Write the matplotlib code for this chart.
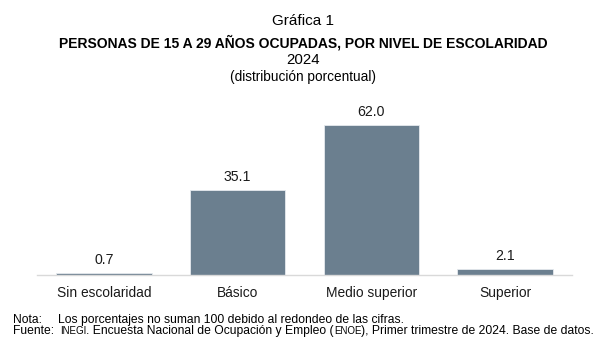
import matplotlib
matplotlib.use("Agg")
import matplotlib.pyplot as plt

categories = ["Sin escolaridad", "Básico", "Medio superior", "Superior"]
values = [0.7, 35.1, 62.0, 2.1]
value_labels = ["0.7", "35.1", "62.0", "2.1"]

plt.rcParams['font.family'] = ['Liberation Sans', 'DejaVu Sans']

W, H = 606, 354
fig = plt.figure(figsize=(W/100, H/100), dpi=100)
ax = fig.add_axes([37/W, 1-274.5/H, (572-37)/W, (274.5-100)/H])

x = range(len(categories))
ax.bar(x, values, width=0.713, color="#6B7F8F", edgecolor="#E6EAEE", linewidth=0.6)
ax.set_xlim(-0.5, 3.5)
ax.set_ylim(0, 72.4)
for xi, v, lab in zip(x, values, value_labels):
    ax.annotate(lab, (xi, v), xytext=(0, 4.5), textcoords="offset points",
                ha="center", va="bottom", fontsize=10.2, color="#1a1a1a")
ax.set_xticks(list(x))
ax.set_xticklabels(categories, fontsize=9.9, color="#1a1a1a")
ax.tick_params(axis="x", length=0, pad=8)
ax.set_yticks([])
for s in ["top", "right", "left"]:
    ax.spines[s].set_visible(False)
ax.spines["bottom"].set_color("#D9D9D9")
ax.spines["bottom"].set_linewidth(1.0)

cx = 0.5
fig.text(cx, 1-21/H, "Gráfica 1", ha="center", va="center", fontsize=11)
fig.text(cx, 1-42.5/H, "PERSONAS DE 15 A 29 AÑOS OCUPADAS, POR NIVEL DE ESCOLARIDAD",
         ha="center", va="center", fontsize=10, fontweight="bold")
fig.text(cx, 1-60/H, "2024", ha="center", va="center", fontsize=10.8)
fig.text(cx, 1-77.5/H, "(distribución porcentual)", ha="center", va="center", fontsize=9.8)

# Notes
fs = 8.75
fig.text(13/W, 1-320/H, "Nota:", ha="left", va="center", fontsize=fs)
fig.text(58/W, 1-320/H, "Los porcentajes no suman 100 debido al redondeo de las cifras.",
         ha="left", va="center", fontsize=fs)

renderer = fig.canvas.get_renderer()
y = 1-334/H
fig.text(13/W, y, "Fuente:", ha="left", va="baseline", fontsize=fs)
pieces = [("INEGI", fs*0.8), (". Encuesta Nacional de Ocupación y Empleo (", fs),
          ("ENOE", fs*0.8), ("), Primer trimestre de 2024. Base de datos.", fs)]
xpos = 60
for txt, size in pieces:
    t = fig.text(xpos/W, y, txt, ha="left", va="baseline", fontsize=size)
    bb = t.get_window_extent(renderer=renderer)
    xpos += bb.width

fig.savefig("out.png", dpi=100)
